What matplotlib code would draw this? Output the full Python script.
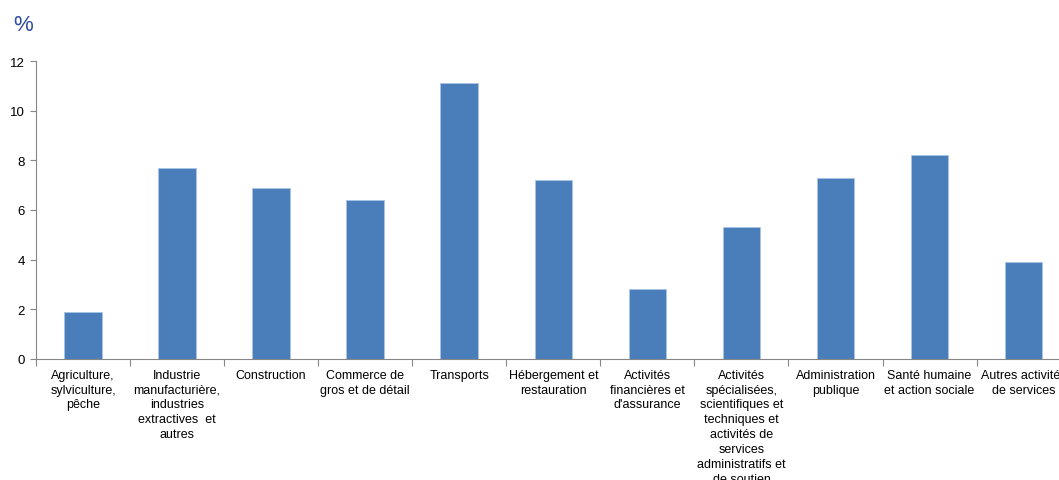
import numpy as np
import matplotlib.pyplot as plt

plt.rcParams['font.family'] = ['Liberation Sans', 'DejaVu Sans']

# data
categories = [
    "Agriculture,\nsylviculture,\npêche",
    "Industrie\nmanufacturière,\nindustries\nextractives  et\nautres",
    "Construction",
    "Commerce de\ngros et de détail",
    "Transports",
    "Hébergement et\nrestauration",
    "Activités\nfinancières et\nd'assurance",
    "Activités\nspécialisées,\nscientifiques et\ntechniques et\nactivités de\nservices\nadministratifs et\nde soutien",
    "Administration\npublique",
    "Santé humaine\net action sociale",
    "Autres activités\nde services",
]
values = [1.9, 7.7, 6.9, 6.4, 11.1, 7.2, 2.8, 5.3, 7.3, 8.2, 3.9]
yticks = [0, 2, 4, 6, 8, 10, 12]

fig = plt.figure(figsize=(10.59, 4.81), dpi=100)
ax = fig.add_axes([0.034, 0.2516, 0.977, 0.6195])

x = np.arange(len(values))
ax.bar(x, values, width=0.4, color="#4a7ebb", edgecolor="#a9c4e6", linewidth=0.6)

ax.set_xlim(-0.5, len(values) - 0.5)
ax.set_ylim(0, 12)
ax.set_yticks(yticks)

ax.set_xticks(x)
ax.set_xticklabels(categories, fontsize=9, linespacing=1.32, va="top")
ax.set_xticks(np.arange(len(values) + 1) - 0.5, minor=True)
ax.tick_params(axis="x", which="major", length=0, pad=7)
ax.tick_params(axis="x", which="minor", length=5, color="#868686", width=0.8)
ax.tick_params(axis="y", length=4, color="#868686", width=0.8, labelsize=9.5, pad=4)

for s in ["top", "right"]:
    ax.spines[s].set_visible(False)
for s in ["left", "bottom"]:
    ax.spines[s].set_color("#868686")
    ax.spines[s].set_linewidth(0.8)

fig.text(0.022, 0.947, "%", fontsize=16, color="#2e4ea0", ha="center", va="center")

fig.savefig("out.png", dpi=100)
